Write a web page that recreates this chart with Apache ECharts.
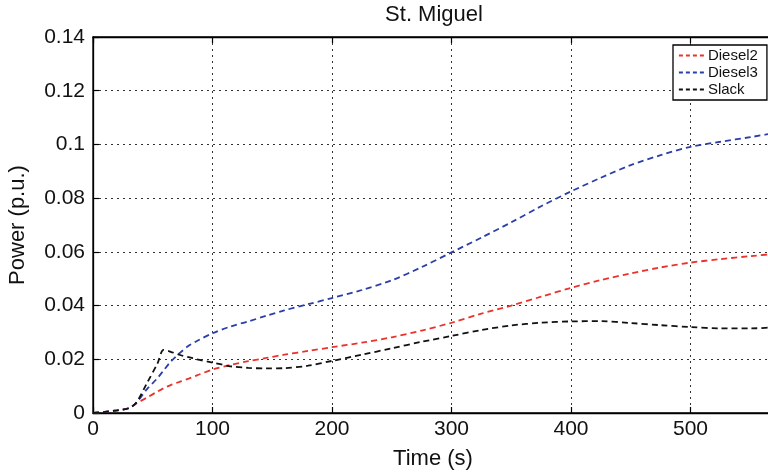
<!DOCTYPE html>
<html>
<head>
<meta charset="utf-8">
<script src="https://cdn.jsdelivr.net/npm/echarts@6/dist/echarts.min.js"></script>
<style>html,body{margin:0;padding:0;background:#fff}#c{width:768px;height:476px}</style>
</head>
<body>
<div id="c"></div>
<script>
var time = [0,10,20,30,36,45,54,59,65,73,80,87,100,115,130,145,160,180,200,225,250,275,300,325,350,375,400,425,450,475,500,525,550,575,600];
var diesel2 = [0,0.0004,0.001,0.0018,0.0035,0.0057,0.0080,0.0092,0.0104,0.0117,0.0128,0.0140,0.0162,0.0179,0.0193,0.0205,0.0217,0.0231,0.0245,0.0262,0.0282,0.0307,0.0336,0.0370,0.0400,0.0433,0.0466,0.0495,0.0520,0.0542,0.0560,0.0573,0.0584,0.0594,0.0600];
var diesel3 = [0,0.0004,0.001,0.0018,0.0037,0.0088,0.0130,0.0158,0.0191,0.0225,0.0250,0.0268,0.0297,0.0322,0.0341,0.0362,0.0382,0.0405,0.0428,0.0458,0.0494,0.0543,0.0598,0.0653,0.0710,0.0770,0.0825,0.0876,0.0923,0.0960,0.0991,0.1010,0.1027,0.1045,0.1055];
var slack = [0,0.0004,0.001,0.0018,0.0037,0.0110,0.0185,0.0235,0.0228,0.0216,0.0208,0.0200,0.0188,0.0174,0.0168,0.0166,0.0167,0.0176,0.0194,0.0217,0.0241,0.0265,0.0287,0.0309,0.0326,0.0336,0.0341,0.0342,0.0335,0.0327,0.0320,0.0315,0.0315,0.0320,0.0322];
var seriesNames = ['Diesel2','Diesel3','Slack'];
var titleText = 'St. Miguel';
var xName = 'Time (s)';
var yName = 'Power (p.u.)';

var FONT = '"Liberation Sans", Arial, Helvetica, sans-serif';
function pairs(ys){ return time.map(function(t,i){ return [t, ys[i]]; }); }
function mk(name, ys, color){
  return {
    name: name, type: 'line', data: pairs(ys), symbol: 'none', smooth: 0.3,
    xAxisIndex: 0, yAxisIndex: 0,
    lineStyle: { color: color, width: 1.8, type: [6, 4] },
    itemStyle: { color: color }
  };
}
var chart = echarts.init(document.getElementById('c'), null, {renderer: 'canvas'});
chart.setOption({
  animation: false,
  backgroundColor: '#fff',
  textStyle: { fontFamily: FONT },
  grid: { left: 93, top: 37, height: 376, width: 717, outerBoundsMode: 'none', show: true, borderColor: '#000', borderWidth: 1.3, backgroundColor: 'transparent', containLabel: false },
  legend: {
    data: seriesNames, orient: 'vertical', left: 673, top: 45,
    padding: [3, 9, 3, 5], itemGap: 2, itemWidth: 25, itemHeight: 14,
    borderColor: '#000', borderWidth: 1.3, backgroundColor: '#fff', borderRadius: 0,
    itemStyle: { opacity: 0 },
    lineStyle: { width: 1.8, type: [4, 3] },
    textStyle: { fontSize: 15, color: '#111', fontFamily: FONT, padding: [0,0,0,-1] }
  },
  xAxis: [{
    type: 'value', min: 0, max: 600, interval: 100,
    axisLine: { show: true, onZero: false, lineStyle: { color: '#000', width: 1.3 } },
    axisTick: { show: true, inside: true, length: 6, lineStyle: { color: '#000', width: 1.2 } },
    axisLabel: { fontSize: 21, color: '#111', margin: 6, fontFamily: FONT },
    splitLine: { show: true, lineStyle: { color: '#333', width: 1, type: [2, 4] } }
  },{
    type: 'value', position: 'top', min: 0, max: 600, interval: 100,
    axisLine: { show: true, onZero: false, lineStyle: { color: '#000', width: 1.3 } },
    axisTick: { show: true, inside: true, length: 6, lineStyle: { color: '#000', width: 1.2 } },
    axisLabel: { show: false }, splitLine: { show: false }
  }],
  yAxis: {
    type: 'value', min: 0, max: 0.14, interval: 0.02,
    axisLine: { show: true, onZero: false, lineStyle: { color: '#000', width: 1.3 } },
    axisTick: { show: true, inside: true, length: 6, lineStyle: { color: '#000', width: 1.2 } },
    axisLabel: { fontSize: 21, color: '#111', margin: 8, fontFamily: FONT,
      formatter: function(v){ return String(Math.round(v*100)/100); } },
    splitLine: { show: true, lineStyle: { color: '#333', width: 1, type: [2, 4] } }
  },
  graphic: [
    { type: 'text', x: 434, y: 15, style: { text: titleText, fontSize: 22, fill: '#111', fontFamily: FONT, textAlign: 'center', textVerticalAlign: 'middle' } },
    { type: 'text', x: 433, y: 459, style: { text: xName, fontSize: 22, fill: '#111', fontFamily: FONT, textAlign: 'center', textVerticalAlign: 'middle' } },
    { type: 'text', x: 17.5, y: 225, rotation: Math.PI/2, style: { text: yName, fontSize: 22, fill: '#111', fontFamily: FONT, textAlign: 'center', textVerticalAlign: 'middle' } }
  ],
  series: [
    mk('Diesel2', diesel2, '#e8342c'),
    mk('Diesel3', diesel3, '#2b3fa8'),
    mk('Slack', slack, '#111111')
  ]
});
</script>
</body>
</html>
